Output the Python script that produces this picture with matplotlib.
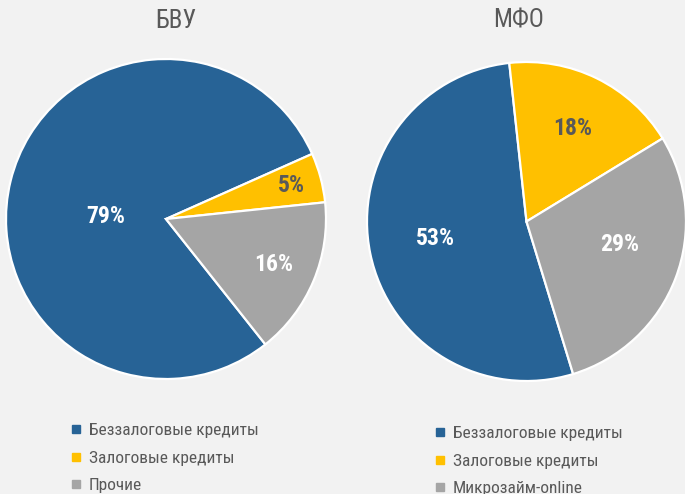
import matplotlib
matplotlib.use("Agg")
import matplotlib.pyplot as plt
from matplotlib.lines import Line2D
import numpy as np

plt.rcParams["font.family"] = ["Roboto Condensed", "DejaVu Sans"]

# data
bvu_title = "БВУ"
bvu_labels = ["Беззалоговые кредиты", "Залоговые кредиты", "Прочие"]
bvu_values = [79, 5, 16]

mfo_title = "МФО"
mfo_labels = ["Беззалоговые кредиты", "Залоговые кредиты", "Микрозайм-online"]
mfo_values = [53, 18, 29]

colors = ["#276396", "#FFC000", "#A5A5A5"]
text_colors = ["white", "#595959", "white"]
bg = "#F2F2F2"


def draw_pie(ax, values, start, label_pos):
    wedges, _ = ax.pie(values, colors=colors, startangle=start, counterclock=False,
                       radius=1, wedgeprops=dict(edgecolor="white", linewidth=1.6))
    for w, v, tc, (dist, shift) in zip(wedges, values, text_colors, label_pos):
        ang = np.deg2rad((w.theta1 + w.theta2) / 2 + shift)
        ax.text(dist * np.cos(ang), dist * np.sin(ang), f"{v}%", ha="center", va="center",
                color=tc, fontsize=17, fontweight="bold")
    ax.set_xlim(-1, 1)
    ax.set_ylim(-1, 1)
    ax.set_aspect("equal")
    ax.axis("off")
    return wedges


def add_legend(fig, labels, x, y):
    handles = [Line2D([], [], marker="s", linestyle="none", markersize=6,
                      markerfacecolor=c, markeredgecolor=c) for c in colors]
    fig.legend(handles, labels, loc="upper left", bbox_to_anchor=(x, y),
               frameon=False, fontsize=12.5, labelcolor="#595959",
               handlelength=0.8, handletextpad=0.35, labelspacing=0.72,
               borderpad=0, borderaxespad=0)


fig = plt.figure(figsize=(6.85, 4.94), dpi=100, facecolor=bg)

ax1 = fig.add_axes([6 / 685, 1 - 379 / 494, 320 / 685, 320 / 494])
draw_pie(ax1, bvu_values, -51.6, [(0.38, 11), (0.81, 0), (0.73, 0)])

ax2 = fig.add_axes([367 / 685, 1 - 381 / 494, 319 / 685, 319 / 494])
draw_pie(ax2, mfo_values, -73, [(0.58, -1), (0.65, 0), (0.6, 6.6)])

fig.text(176 / 685, 1 - 21 / 494, bvu_title, ha="center", va="center",
         fontsize=18, color="#595959")
fig.text(519 / 685, 1 - 21 / 494, mfo_title, ha="center", va="center",
         fontsize=18, color="#595959")

add_legend(fig, bvu_labels, 69 / 685, 1 - 423 / 494)
add_legend(fig, mfo_labels, 433 / 685, 1 - 426 / 494)

fig.savefig("out.png", dpi=100, facecolor=bg)
